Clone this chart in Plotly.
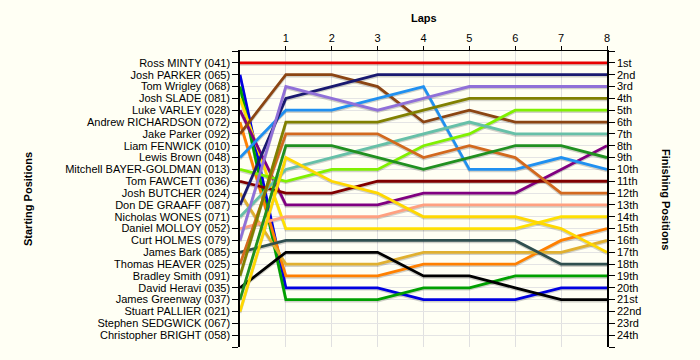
import plotly.graph_objects as go

# Drivers in starting-grid order (starting position 1..24)
drivers = [
    "Ross MINTY (041)", "Josh PARKER (065)", "Tom Wrigley (068)", "Josh SLADE (081)",
    "Luke VARLEY (028)", "Andrew RICHARDSON (072)", "Jake Parker (092)", "Liam FENWICK (010)",
    "Lewis Brown (048)", "Mitchell BAYER-GOLDMAN (013)", "Tom FAWCETT (036)", "Josh BUTCHER (024)",
    "Don DE GRAAFF (087)", "Nicholas WONES (071)", "Daniel MOLLOY (052)", "Curt HOLMES (079)",
    "James Bark (085)", "Thomas HEAVER (025)", "Bradley Smith (091)", "David Heravi (035)",
    "James Greenway (037)", "Stuart PALLIER (021)", "Stephen SEDGWICK (067)", "Christopher BRIGHT (058)",
]

laps = [0, 1, 2, 3, 4, 5, 6, 7, 8]

# Position of each driver (in starting order) at the end of each lap; None = no data
lap1 = [1, 20, 21, 15, 13, 19, 2, None, 5, 11, 12, 18, 4, 10, 14, 3, 16, 7, 6, 17, 8, 9, None, None]
lap2 = [1, 20, 21, 15, 13, 19, 2, None, 5, 10, 12, 18, 3, 9, 14, 4, 16, 7, 6, 17, 8, 11, None, None]
lap3 = [1, 20, 21, 15, 13, 19, 3, None, 4, 10, 11, 18, 2, 8, 14, 5, 16, 7, 6, 17, 9, 12, None, None]
lap4 = [1, 21, 20, 15, 12, 18, 6, None, 3, 8, 11, 17, 2, 7, 13, 4, 16, 9, 5, 19, 10, 14, None, None]
lap5 = [1, 21, 20, 15, 12, 18, 5, None, 10, 7, 11, 17, 2, 6, 13, 3, 16, 8, 4, 19, 9, 14, None, None]
lap6 = [1, 21, 19, 15, 12, 18, 6, None, 10, 5, 11, 17, 2, 7, 13, 3, 16, 9, 4, 20, 8, 14, None, None]
lap7 = [1, 20, 19, 14, 10, 16, 6, None, 9, 5, 11, 17, 2, 7, 13, 3, 18, 12, 4, 21, 8, 15, None, None]
lap8 = [1, 20, 19, 14, 8, 15, 6, None, 10, 5, 11, 16, 2, 7, 13, 3, 18, 12, 4, 21, 9, 17, None, None]

colors = [
    "#e80000", "#0000e0", "#00a000", "#ffe000", "#800080", "#ff8000", "#8b4513", None,
    "#2090f0", "#80f000", "#800000", "#e0b030", "#191970", "#66c0a8", "#ffa080", "#9070d8",
    "#2f4f4f", "#d2691e", "#808000", "#000000", "#209020", "#ffd800", None, None,
]

finish_labels = ["1st", "2nd", "3rd", "4th", "5th", "6th", "7th", "8th", "9th", "10th",
                 "11th", "12th", "13th", "14th", "15th", "16th", "17th", "18th", "19th",
                 "20th", "21st", "22nd", "23rd", "24th"]

all_laps = [lap1, lap2, lap3, lap4, lap5, lap6, lap7, lap8]

fig = go.Figure()
for i, name in enumerate(drivers):
    if colors[i] is None or lap1[i] is None:
        continue
    ys = [i + 1] + [lp[i] for lp in all_laps]
    # shadow
    fig.add_trace(go.Scatter(x=laps, y=[v + 0.12 for v in ys], mode="lines",
                             line=dict(color="rgba(0,0,0,0.18)", width=2.8),
                             hoverinfo="skip", showlegend=False))
for i, name in enumerate(drivers):
    if colors[i] is None or lap1[i] is None:
        continue
    ys = [i + 1] + [lp[i] for lp in all_laps]
    fig.add_trace(go.Scatter(x=laps, y=ys, mode="lines", name=name,
                             line=dict(color=colors[i], width=2.8), showlegend=False))

# invisible trace for right axis
fig.add_trace(go.Scatter(x=[0], y=[1], yaxis="y2", mode="markers",
                         marker=dict(opacity=0), showlegend=False, hoverinfo="skip"))

pos_vals = list(range(0, 26))
left_text = [""] + drivers + [""]
right_text = [""] + finish_labels + [""]

font = dict(family="Liberation Sans, Arial, sans-serif", size=11, color="#000000")
bg = "#fffff4"

L, R, T, B = 240, 93, 51, 13
plot_w = 700 - L - R
plot_h = 360 - T - B

fig.update_layout(
    width=700, height=360,
    margin=dict(l=L, r=R, t=T, b=B, autoexpand=False),
    paper_bgcolor=bg, plot_bgcolor=bg,
    font=font,
    showlegend=False,
    xaxis=dict(side="top", range=[0, 8], tickvals=[1, 2, 3, 4, 5, 6, 7, 8],
               showgrid=True, gridcolor="#e0e0e0", gridwidth=1,
               showline=True, linecolor="#000000", linewidth=1,
               ticks="outside", ticklen=4, tickcolor="#000000",
               zeroline=False, tickfont=font, automargin=False),
    yaxis=dict(range=[25, 0], tickvals=pos_vals, ticktext=left_text,
               showgrid=True, gridcolor="#e4e4e4", gridwidth=1,
               showline=True, linecolor="#000000", linewidth=1.5,
               ticks="outside", ticklen=6, tickcolor="#000000",
               zeroline=False, tickfont=font, automargin=False),
    yaxis2=dict(range=[25, 0], tickvals=pos_vals, ticktext=right_text,
                overlaying="y", side="right", showgrid=False,
                showline=True, linecolor="#000000", linewidth=1.5,
                ticks="outside", ticklen=6, tickcolor="#000000",
                zeroline=False, tickfont=font, automargin=False),
    annotations=[
        dict(text="<b>Laps</b>", x=0.5, xref="paper", y=1 + (T - 18) / plot_h,
             yref="paper", yanchor="middle", showarrow=False, font=font),
        dict(text="<b>Starting Positions</b>", x=(28 - L) / plot_w, xref="paper",
             xanchor="center", y=0.5, yref="paper",
             textangle=-90, showarrow=False, font=font),
        dict(text="<b>Finishing Positions</b>", x=(666 - L) / plot_w, xref="paper",
             xanchor="center", y=0.5, yref="paper",
             textangle=90, showarrow=False, font=font),
    ],
)

fig.write_html("out.html", config={"displayModeBar": False},
               post_script="document.body.style.margin='0';document.body.style.background='%s';" % bg)
